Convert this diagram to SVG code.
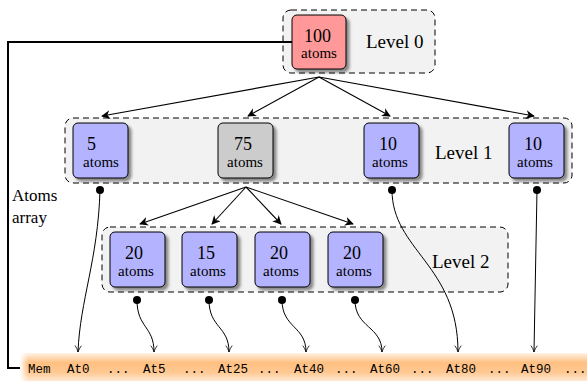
<svg xmlns="http://www.w3.org/2000/svg" width="587" height="381" viewBox="0 0 587 381">
<defs>
<filter id="sh" x="-20%" y="-20%" width="150%" height="150%">
<feGaussianBlur in="SourceAlpha" stdDeviation="1.6"/>
<feOffset dx="2.5" dy="2.5" result="b"/>
<feComponentTransfer><feFuncA type="linear" slope="0.45"/></feComponentTransfer>
<feMerge><feMergeNode/><feMergeNode in="SourceGraphic"/></feMerge>
</filter>
<linearGradient id="mem" x1="0" y1="0" x2="0" y2="1">
<stop offset="0" stop-color="#fff3e6"/>
<stop offset="0.35" stop-color="#ffbf80"/>
<stop offset="0.7" stop-color="#ffc993"/>
<stop offset="1" stop-color="#ffe9d2"/>
</linearGradient>
<linearGradient id="memL" x1="0" y1="0" x2="1" y2="0">
<stop offset="0" stop-color="#ffffff" stop-opacity="1"/>
<stop offset="1" stop-color="#ffffff" stop-opacity="0"/>
</linearGradient>
<marker id="ah" viewBox="0 0 10 10" refX="9" refY="5" markerWidth="9" markerHeight="9" markerUnits="userSpaceOnUse" orient="auto">
<path d="M0,0 L10,5 L0,10 L3,5 Z" fill="#000"/>
</marker>
<marker id="to" viewBox="0 0 10 10" refX="9" refY="5" markerWidth="8" markerHeight="8" markerUnits="userSpaceOnUse" orient="auto">
<path d="M1,1 Q5,4 9,5 Q5,6 1,9" fill="none" stroke="#000" stroke-width="1"/>
</marker>
</defs>
<style>
.grp{fill:#f2f2f2;stroke:#000;stroke-width:1;stroke-dasharray:6,4}
.node{stroke:#000;stroke-width:1}
.blue{fill:#b3b3ff}
.red{fill:#ff9999}
.gray{fill:#cccccc}
.num{font-family:"Liberation Serif","DejaVu Serif",serif;font-size:18px;fill:#000}
.at{font-family:"Liberation Serif","DejaVu Serif",serif;font-size:15px;fill:#000;text-anchor:middle}
.lvl{font-family:"Liberation Serif","DejaVu Serif",serif;font-size:19px;fill:#000}
.side{font-family:"Liberation Serif","DejaVu Serif",serif;font-size:17px;fill:#000}
.mono{font-family:"Liberation Mono",monospace;font-size:12.5px;fill:#000}
.tree{stroke:#000;stroke-width:1.1;fill:none;marker-end:url(#ah)}
.ptr{stroke:#000;stroke-width:1;fill:none;marker-end:url(#to)}
</style>

<!-- memory bar -->
<g id="memory">
<rect x="20" y="353" width="567" height="28" fill="url(#mem)"/>
<rect x="20" y="353" width="8" height="28" fill="url(#memL)"/>
<text class="mono" y="373">
<tspan x="28">Mem</tspan><tspan x="67">At0</tspan><tspan x="107">...</tspan><tspan x="143">At5</tspan><tspan x="183">...</tspan><tspan x="218">At25</tspan><tspan x="258">...</tspan><tspan x="294">At40</tspan><tspan x="335">...</tspan><tspan x="370">At60</tspan><tspan x="411">...</tspan><tspan x="446">At80</tspan><tspan x="488">...</tspan><tspan x="521">At90</tspan><tspan x="564">...</tspan>
</text>
</g>

<!-- groups -->
<g id="level0">
<rect class="grp" x="283" y="10" width="152" height="63" rx="8"/>
<text class="lvl" x="366" y="48">Level 0</text>
</g>
<g id="level1">
<rect class="grp" x="65" y="118" width="507" height="65" rx="8"/>
<text class="lvl" x="435" y="159">Level 1</text>
</g>
<g id="level2">
<rect class="grp" x="102" y="227" width="406" height="65" rx="8"/>
<text class="lvl" x="432" y="268">Level 2</text>
</g>

<text class="side" x="12" y="201">Atoms</text>
<text class="side" x="12" y="223">array</text>

<!-- connectors -->
<g id="connectors">
<path d="M292,42 H8 V368 H20" stroke="#000" stroke-width="2" fill="none"/>
<path class="tree" d="M319,77 L102,116"/>
<path class="tree" d="M319,77 L248,116"/>
<path class="tree" d="M319,77 L390,116"/>
<path class="tree" d="M319,77 L534,116"/>
<path class="tree" d="M246,187 L140,224"/>
<path class="tree" d="M246,187 L212,224"/>
<path class="tree" d="M246,187 L281,224"/>
<path class="tree" d="M246,187 L353,224"/>
<path class="ptr" d="M100,190 C98,260 80,300 78,352"/>
<path class="ptr" d="M137,300 C137,328 154,326 154,352"/>
<path class="ptr" d="M209,300 C209,328 229,326 229,352"/>
<path class="ptr" d="M282,300 C282,328 306,326 306,352"/>
<path class="ptr" d="M355,300 C355,328 382,326 382,352"/>
<path class="ptr" d="M392,190 C392,250 458,265 458,352"/>
<path class="ptr" d="M537,190 L534,352"/>
<g fill="#000">
<circle cx="100" cy="190" r="4"/>
<circle cx="392" cy="190" r="4"/>
<circle cx="537" cy="190" r="4"/>
<circle cx="137" cy="300" r="4"/>
<circle cx="209" cy="300" r="4"/>
<circle cx="282" cy="300" r="4"/>
<circle cx="355" cy="300" r="4"/>
</g>
</g>

<!-- nodes -->
<g id="n100">
<rect class="node red" x="292" y="15" width="54" height="54" rx="5" filter="url(#sh)"/>
<text class="num" x="304" y="42">100</text>
<text class="at" x="319" y="58">atoms</text>
</g>
<g id="n5">
<rect class="node blue" x="73" y="123" width="55" height="55" rx="5" filter="url(#sh)"/>
<text class="num" x="87" y="150">5</text>
<text class="at" x="101" y="167">atoms</text>
</g>
<g id="n75">
<rect class="node gray" x="218" y="123" width="55" height="55" rx="5" filter="url(#sh)"/>
<text class="num" x="234" y="150">75</text>
<text class="at" x="245" y="167">atoms</text>
</g>
<g id="n10a">
<rect class="node blue" x="364" y="123" width="55" height="55" rx="5" filter="url(#sh)"/>
<text class="num" x="379" y="150">10</text>
<text class="at" x="390" y="167">atoms</text>
</g>
<g id="n10b">
<rect class="node blue" x="509" y="123" width="55" height="55" rx="5" filter="url(#sh)"/>
<text class="num" x="524" y="150">10</text>
<text class="at" x="535" y="167">atoms</text>
</g>
<g id="n20a">
<rect class="node blue" x="110" y="232" width="55" height="55" rx="5" filter="url(#sh)"/>
<text class="num" x="125" y="259">20</text>
<text class="at" x="136" y="276">atoms</text>
</g>
<g id="n15">
<rect class="node blue" x="182" y="232" width="55" height="55" rx="5" filter="url(#sh)"/>
<text class="num" x="197" y="259">15</text>
<text class="at" x="208" y="276">atoms</text>
</g>
<g id="n20b">
<rect class="node blue" x="255" y="232" width="55" height="55" rx="5" filter="url(#sh)"/>
<text class="num" x="270" y="259">20</text>
<text class="at" x="281" y="276">atoms</text>
</g>
<g id="n20c">
<rect class="node blue" x="328" y="232" width="55" height="55" rx="5" filter="url(#sh)"/>
<text class="num" x="343" y="259">20</text>
<text class="at" x="354" y="276">atoms</text>
</g>
</svg>
